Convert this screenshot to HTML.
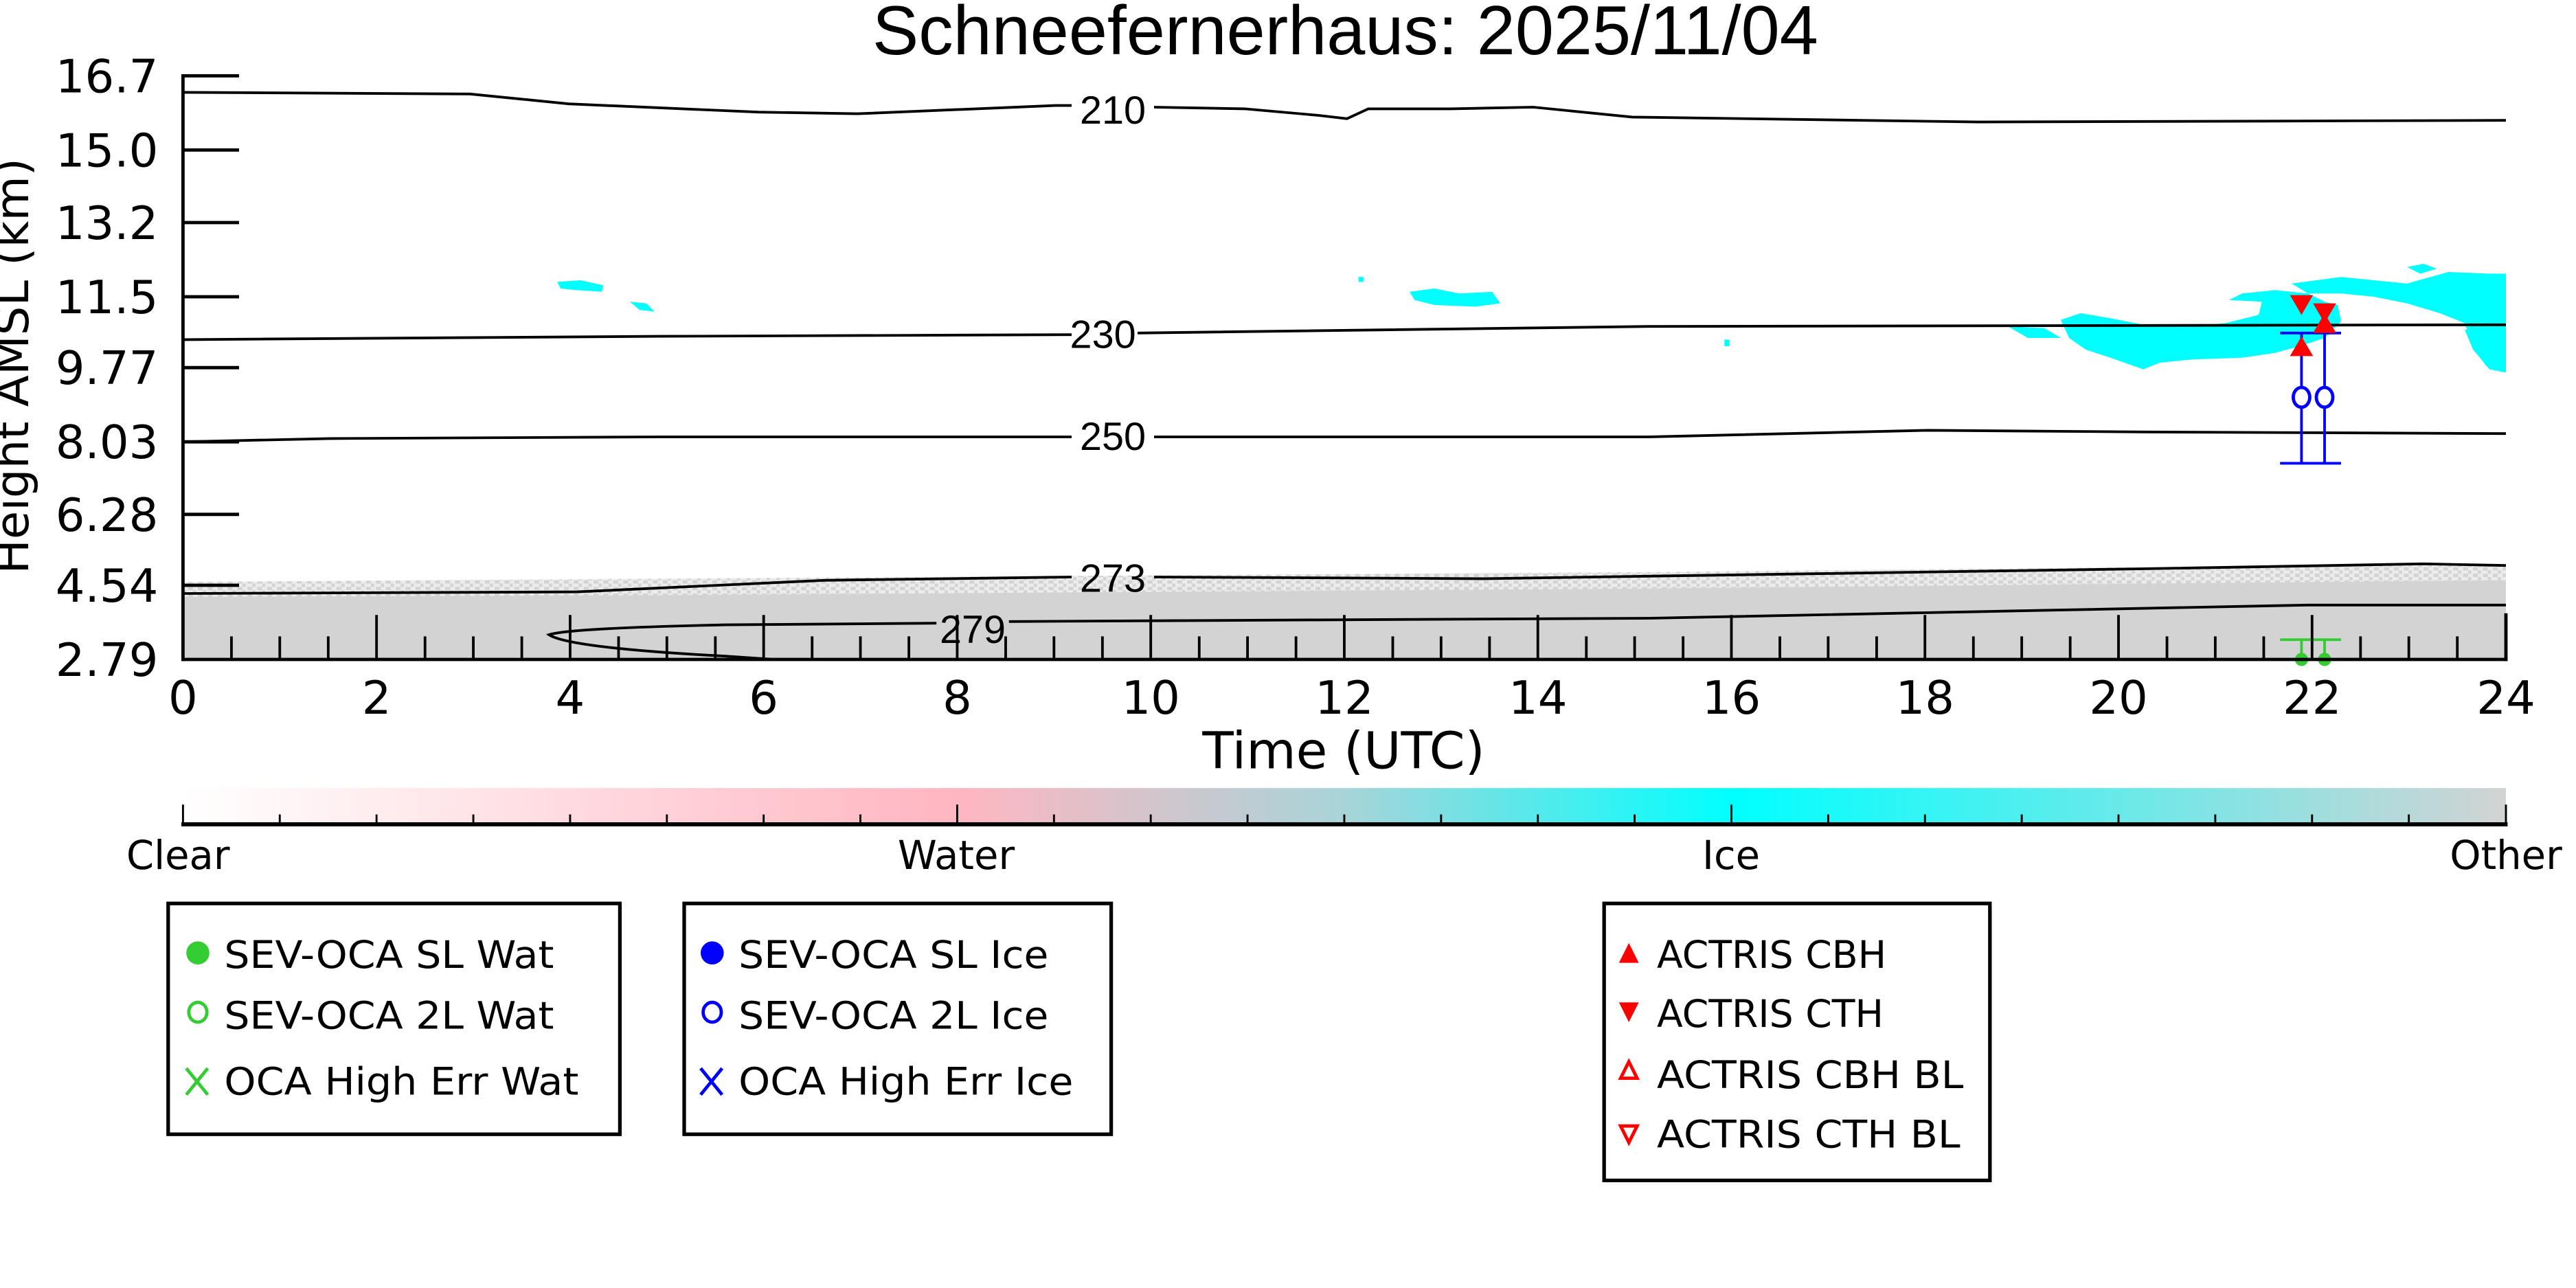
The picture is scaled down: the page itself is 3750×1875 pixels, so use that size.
<!DOCTYPE html>
<html><head><meta charset="utf-8"><style>html,body{margin:0;padding:0;background:#fff}svg{display:block}</style></head>
<body>
<svg xmlns="http://www.w3.org/2000/svg" width="3750" height="1875" viewBox="0 0 1562.5 781.25">
<defs>
<linearGradient id="cb" x1="0" x2="1" y1="0" y2="0">
<stop offset="0" stop-color="#ffffff"/>
<stop offset="0.333" stop-color="#ffb6c1"/>
<stop offset="0.5" stop-color="#a8d4d8"/>
<stop offset="0.667" stop-color="#00ffff"/>
<stop offset="1" stop-color="#d3d3d3"/>
</linearGradient>
<pattern id="spk" width="6" height="4" patternUnits="userSpaceOnUse">
<rect width="6" height="4" fill="#ececec"/>
<rect x="0" y="0" width="3" height="2" fill="#d3d3d3"/>
<rect x="3" y="2" width="2" height="2" fill="#d3d3d3"/>
</pattern>
</defs>
<rect width="1562.5" height="781.25" fill="#fff"/>
<text x="816" y="33" font-family="Liberation Sans, sans-serif" font-size="42" text-anchor="middle">Schneefernerhaus: 2025/11/04</text>

<polygon points="111,353 400,351 700,349 1000,347 1300,344 1520,342 1520,400 111,400" fill="url(#spk)"/>
<polygon points="111,362 400,361 700,359 1000,357 1300,354 1520,352 1520,400 111,400" fill="#d3d3d3"/>

<g fill="#00ffff">
<polygon points="338,171 352,170 366,173 365,177 350,176 340,175"/>
<polygon points="382,183 392,184 397,189 388,188"/>
<polygon points="855,177 870,175 885,178 905,177 910,184 895,186 870,185 858,182"/>
<polygon points="1250,194 1262,190 1280,193 1300,197 1330,198 1350,196 1370,191 1372,183 1352,182 1360,178 1380,176 1400,178 1410,183 1418,185 1420,195 1410,205 1395,210 1380,214 1360,217 1330,218 1310,220 1300,224 1280,217 1265,212 1255,205"/>
<polygon points="1218,198 1240,199 1250,205 1230,205"/>
<polygon points="1390,172 1420,168 1440,170 1460,172 1485,165 1510,166 1520,166 1520,200 1515,225 1508,222 1500,210 1495,196 1480,190 1460,184 1440,180 1420,178 1400,178"/>
<polygon points="1460,162 1470,160 1478,163 1468,166"/>
<polygon points="1495,200 1520,198 1520,226 1510,224 1500,212"/>
<rect x="1046" y="206" width="3" height="4"/>
<rect x="824" y="168" width="3" height="3"/>
</g>

<g fill="none" stroke="#000" stroke-width="1.6">
<polyline points="111,56 285,57 345,63 460,68 520,69 640,64 650,64"/>
<polyline points="700,65 755,66 800,70 817,72 830,66 880,66 930,65 990,71 1200,74 1520,73"/>
<polyline points="111,206 400,204 650,203"/>
<polyline points="690,202 1000,198 1520,197"/>
<polyline points="111,268 200,266 400,265 650,265"/>
<polyline points="700,265 1000,265 1170,261 1300,262 1520,263"/>
<polyline points="111,360 350,359 500,352 650,350"/>
<polyline points="700,350 900,351 1100,348 1300,345 1470,342 1520,343"/>
<path d="M568,378 L440,379 Q345,381 333,385 Q345,393 440,398 L470,400"/>
<polyline points="612,377 800,376 1000,375 1200,371 1400,367 1520,367"/>
</g>
<g font-family="Liberation Sans, sans-serif" font-size="24" text-anchor="middle">
<text x="675" y="75">210</text>
<text x="669" y="211">230</text>
<text x="675" y="273">250</text>
<text x="675" y="359">273</text>
<text x="590" y="390">279</text>
</g>

<g stroke="#0000ff" stroke-width="1.6" fill="none">
<line x1="1396" y1="202" x2="1396" y2="281"/>
<line x1="1410" y1="202" x2="1410" y2="281"/>
<line x1="1383" y1="202" x2="1420" y2="202"/>
<line x1="1383" y1="281" x2="1420" y2="281"/>
<ellipse cx="1396" cy="241" rx="5" ry="6" fill="#fff" stroke-width="2"/>
<ellipse cx="1410" cy="241" rx="5" ry="6" fill="#fff" stroke-width="2"/>
</g>
<g fill="#ff0000">
<polygon points="1389,179 1403,179 1396,191"/>
<polygon points="1389,216 1403,216 1396,204"/>
<polygon points="1403,184 1417,184 1410,196"/>
<polygon points="1403,202 1417,202 1410,190"/>
</g>
<g stroke="#33cc33" stroke-width="1.6">
<line x1="1383" y1="388" x2="1420" y2="388"/>
<line x1="1396" y1="388" x2="1396" y2="400"/>
<line x1="1410" y1="388" x2="1410" y2="400"/>
</g>
<circle cx="1396" cy="400" r="4" fill="#33cc33"/>
<circle cx="1410" cy="400" r="4" fill="#33cc33"/>

<g stroke="#000" stroke-width="2" fill="none">
<line x1="111" y1="45" x2="111" y2="401"/>
<line x1="110" y1="400" x2="1521" y2="400"/>
<line x1="1520" y1="372" x2="1520" y2="401"/>
<path d="M111,46h34 M111,91h34 M111,135h34 M111,180h34 M111,223h34 M111,268h34 M111,312h34 M111,355h34"/>
</g>
<g stroke="#000" stroke-width="1.6">
<path d="M228.4,400v-27 M345.8,400v-27 M463.2,400v-27 M580.6,400v-27 M698,400v-27 M815.4,400v-27 M932.8,400v-27 M1050.2,400v-27 M1167.6,400v-27 M1285,400v-27 M1402.4,400v-27"/>
<path d="M140.4,400v-14 M169.7,400v-14 M199.1,400v-14 M257.8,400v-14 M287.1,400v-14 M316.5,400v-14 M375.2,400v-14 M404.5,400v-14 M433.9,400v-14 M492.6,400v-14 M521.9,400v-14 M551.3,400v-14 M610,400v-14 M639.3,400v-14 M668.7,400v-14 M727.4,400v-14 M756.7,400v-14 M786.1,400v-14 M844.8,400v-14 M874.1,400v-14 M903.5,400v-14 M962.2,400v-14 M991.5,400v-14 M1020.9,400v-14 M1079.6,400v-14 M1108.9,400v-14 M1138.3,400v-14 M1197,400v-14 M1226.3,400v-14 M1255.7,400v-14 M1314.4,400v-14 M1343.7,400v-14 M1373.1,400v-14 M1431.8,400v-14 M1461.1,400v-14 M1490.5,400v-14"/>
</g>
<g font-family="DejaVu Sans, sans-serif" font-size="28" text-anchor="end">
<text x="96" y="56">16.7</text><text x="96" y="101">15.0</text><text x="96" y="145">13.2</text>
<text x="96" y="190">11.5</text><text x="96" y="233">9.77</text><text x="96" y="278">8.03</text>
<text x="96" y="322">6.28</text><text x="96" y="365">4.54</text><text x="96" y="410">2.79</text>
</g>
<g font-family="DejaVu Sans, sans-serif" font-size="28" text-anchor="middle">
<text x="111" y="433">0</text><text x="228.4" y="433">2</text><text x="345.8" y="433">4</text>
<text x="463.2" y="433">6</text><text x="580.6" y="433">8</text><text x="698" y="433">10</text>
<text x="815.4" y="433">12</text><text x="932.8" y="433">14</text><text x="1050.2" y="433">16</text>
<text x="1167.6" y="433">18</text><text x="1285" y="433">20</text><text x="1402.4" y="433">22</text>
<text x="1520" y="433">24</text>
</g>
<text x="815" y="466" font-family="DejaVu Sans, sans-serif" font-size="31" text-anchor="middle">Time (UTC)</text>
<text transform="translate(17,222) rotate(-90)" font-family="DejaVu Sans, sans-serif" font-size="28" text-anchor="middle">Height AMSL (km)</text>

<rect x="111" y="478" width="1409" height="22" fill="url(#cb)"/>
<line x1="110" y1="500" x2="1521" y2="500" stroke="#000" stroke-width="2.5"/>
<g stroke="#000" stroke-width="1.2">
<path d="M111,500v-12 M580.6,500v-12 M1050.2,500v-12 M1520,500v-12"/>
<path d="M169.7,500v-6 M228.4,500v-6 M287.1,500v-6 M345.8,500v-6 M404.5,500v-6 M463.2,500v-6 M521.9,500v-6 M639.3,500v-6 M698,500v-6 M756.7,500v-6 M815.4,500v-6 M874.1,500v-6 M932.8,500v-6 M991.5,500v-6 M1108.9,500v-6 M1167.6,500v-6 M1226.3,500v-6 M1285,500v-6 M1343.7,500v-6 M1402.4,500v-6 M1461.1,500v-6"/>
</g>
<g font-family="DejaVu Sans, sans-serif" font-size="24" text-anchor="middle">
<text x="108" y="527">Clear</text><text x="580" y="527">Water</text><text x="1050" y="527">Ice</text><text x="1520" y="527">Other</text>
</g>

<g fill="none" stroke="#000" stroke-width="2.2">
<rect x="102" y="548" width="274" height="140"/>
<rect x="415" y="548" width="259" height="140"/>
<rect x="973" y="548" width="234" height="168"/>
</g>
<g font-family="DejaVu Sans, sans-serif" font-size="23">
<text x="136" y="587" textLength="200" lengthAdjust="spacingAndGlyphs">SEV-OCA SL Wat</text>
<text x="136" y="624" textLength="200" lengthAdjust="spacingAndGlyphs">SEV-OCA 2L Wat</text>
<text x="136" y="664" textLength="215" lengthAdjust="spacingAndGlyphs">OCA High Err Wat</text>
<text x="448" y="587" textLength="188" lengthAdjust="spacingAndGlyphs">SEV-OCA SL Ice</text>
<text x="448" y="624" textLength="188" lengthAdjust="spacingAndGlyphs">SEV-OCA 2L Ice</text>
<text x="448" y="664" textLength="203" lengthAdjust="spacingAndGlyphs">OCA High Err Ice</text>
<text x="1005" y="587">ACTRIS CBH</text>
<text x="1005" y="623">ACTRIS CTH</text>
<text x="1005" y="660" textLength="186" lengthAdjust="spacingAndGlyphs">ACTRIS CBH BL</text>
<text x="1005" y="696" textLength="184" lengthAdjust="spacingAndGlyphs">ACTRIS CTH BL</text>
</g>
<ellipse cx="120" cy="578" rx="7" ry="7" fill="#33cc33"/>
<ellipse cx="120" cy="614" rx="5.5" ry="6" fill="none" stroke="#33cc33" stroke-width="2"/>
<path d="M113,648 L126,664 M126,648 L113,664" stroke="#33cc33" stroke-width="2"/>
<ellipse cx="432" cy="578" rx="7" ry="7" fill="#0000ff"/>
<ellipse cx="432" cy="614" rx="5.5" ry="6" fill="none" stroke="#0000ff" stroke-width="2"/>
<path d="M425,648 L438,664 M438,648 L425,664" stroke="#0000ff" stroke-width="2"/>
<polygon points="982,584 994,584 988,572" fill="#ff0000"/>
<polygon points="982,608 994,608 988,620" fill="#ff0000"/>
<polygon points="983,654 993,654 988,644" fill="none" stroke="#ff0000" stroke-width="2"/>
<polygon points="983,683 993,683 988,693" fill="none" stroke="#ff0000" stroke-width="2"/>
</svg>
</body></html>
